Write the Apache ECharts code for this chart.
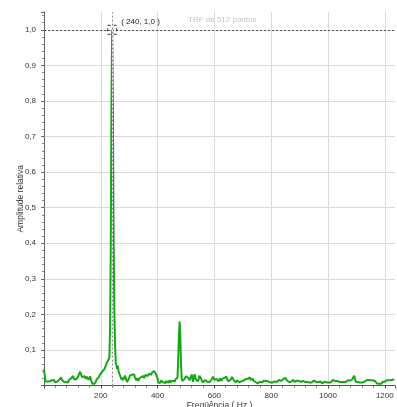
<!DOCTYPE html>
<html>
<head>
<meta charset="utf-8">
<script src="https://cdn.jsdelivr.net/npm/echarts@6/dist/echarts.min.js"></script>
<style>
  html, body { margin: 0; padding: 0; background: #ffffff; }
  #chart { width: 397px; height: 407px; }
</style>
</head>
<body>
<div id="chart"></div>
<script>
// Spectrum of a 512-point DFT, relative amplitude, one value every 2.5 Hz from 0 Hz.
const freqStep = 2.5;
const amplitude = [
  // 0 - 47.5 Hz
  0.046, 0.030, 0.012, 0.007, 0.009, 0.011, 0.008, 0.013, 0.012, 0.009, 0.012, 0.015, 0.010, 0.013, 0.016, 0.011, 0.009, 0.013, 0.010, 0.012,
  // 50 - 97.5 Hz
  0.015, 0.011, 0.017, 0.021, 0.023, 0.017, 0.022, 0.015, 0.011, 0.009, 0.014, 0.010, 0.015, 0.012, 0.009, 0.016, 0.012, 0.017, 0.020, 0.025,
  // 100 - 147.5 Hz
  0.021, 0.027, 0.019, 0.017, 0.022, 0.017, 0.015, 0.021, 0.025, 0.031, 0.034, 0.039, 0.032, 0.027, 0.023, 0.019, 0.023, 0.027, 0.022, 0.019,
  // 150 - 197.5 Hz
  0.025, 0.028, 0.021, 0.017, 0.022, 0.026, 0.018, 0.012, 0.005, 0.003, 0.009, 0.005, 0.003, 0.011, 0.017, 0.021, 0.017, 0.023, 0.028, 0.031,
  // 200 - 247.5 Hz
  0.036, 0.031, 0.039, 0.035, 0.043, 0.046, 0.051, 0.056, 0.062, 0.066, 0.070, 0.074, 0.078, 0.150, 0.380, 0.790, 1.000, 0.810, 0.430, 0.220,
  // 250 - 297.5 Hz
  0.120, 0.065, 0.060, 0.047, 0.056, 0.040, 0.036, 0.029, 0.025, 0.017, 0.023, 0.015, 0.014, 0.021, 0.028, 0.023, 0.016, 0.010, 0.007, 0.013,
  // 300 - 347.5 Hz
  0.021, 0.028, 0.032, 0.025, 0.031, 0.034, 0.027, 0.031, 0.024, 0.019, 0.015, 0.021, 0.016, 0.013, 0.020, 0.023, 0.017, 0.024, 0.028, 0.023,
  // 350 - 397.5 Hz
  0.027, 0.021, 0.026, 0.030, 0.026, 0.032, 0.027, 0.031, 0.034, 0.029, 0.035, 0.030, 0.036, 0.039, 0.035, 0.041, 0.037, 0.035, 0.040, 0.033,
  // 400 - 447.5 Hz
  0.020, 0.008, 0.011, 0.013, 0.008, 0.014, 0.017, 0.011, 0.009, 0.014, 0.011, 0.007, 0.013, 0.009, 0.014, 0.008, 0.012, 0.015, 0.009, 0.013,
  // 450 - 497.5 Hz
  0.008, 0.014, 0.010, 0.016, 0.011, 0.017, 0.013, 0.019, 0.022, 0.070, 0.137, 0.180, 0.137, 0.060, 0.020, 0.013, 0.017, 0.012, 0.019, 0.023,
  // 500 - 547.5 Hz
  0.026, 0.021, 0.027, 0.022, 0.020, 0.015, 0.020, 0.025, 0.031, 0.026, 0.011, 0.021, 0.032, 0.025, 0.017, 0.013, 0.017, 0.012, 0.019, 0.028,
  // 550 - 597.5 Hz
  0.031, 0.021, 0.015, 0.011, 0.009, 0.014, 0.010, 0.016, 0.012, 0.017, 0.011, 0.009, 0.014, 0.010, 0.015, 0.011, 0.017, 0.020, 0.025, 0.020,
  // 600 - 647.5 Hz
  0.016, 0.020, 0.015, 0.019, 0.014, 0.018, 0.012, 0.017, 0.020, 0.016, 0.013, 0.019, 0.021, 0.016, 0.022, 0.024, 0.019, 0.025, 0.018, 0.015,
  // 650 - 697.5 Hz
  0.012, 0.009, 0.013, 0.017, 0.020, 0.024, 0.020, 0.016, 0.013, 0.011, 0.009, 0.013, 0.015, 0.010, 0.014, 0.009, 0.013, 0.008, 0.012, 0.007,
  // 700 - 747.5 Hz
  0.010, 0.014, 0.010, 0.015, 0.018, 0.020, 0.015, 0.019, 0.022, 0.018, 0.023, 0.016, 0.013, 0.017, 0.020, 0.014, 0.011, 0.015, 0.010, 0.009,
  // 750 - 797.5 Hz
  0.008, 0.006, 0.010, 0.007, 0.011, 0.008, 0.013, 0.009, 0.014, 0.010, 0.014, 0.011, 0.009, 0.013, 0.010, 0.008, 0.012, 0.009, 0.013, 0.009,
  // 800 - 847.5 Hz
  0.008, 0.012, 0.009, 0.013, 0.008, 0.012, 0.009, 0.013, 0.010, 0.014, 0.011, 0.016, 0.012, 0.017, 0.013, 0.012, 0.016, 0.018, 0.015, 0.020,
  // 850 - 897.5 Hz
  0.022, 0.017, 0.015, 0.011, 0.014, 0.010, 0.013, 0.015, 0.011, 0.009, 0.014, 0.016, 0.012, 0.010, 0.013, 0.009, 0.014, 0.017, 0.018, 0.013,
  // 900 - 947.5 Hz
  0.017, 0.013, 0.011, 0.014, 0.010, 0.013, 0.009, 0.013, 0.010, 0.009, 0.013, 0.010, 0.008, 0.012, 0.009, 0.013, 0.010, 0.009, 0.013, 0.010,
  // 950 - 997.5 Hz
  0.014, 0.011, 0.015, 0.011, 0.014, 0.010, 0.009, 0.013, 0.008, 0.012, 0.007, 0.010, 0.006, 0.010, 0.007, 0.011, 0.008, 0.012, 0.009, 0.013,
  // 1000 - 1047.5 Hz
  0.010, 0.009, 0.013, 0.010, 0.009, 0.013, 0.012, 0.016, 0.013, 0.017, 0.013, 0.014, 0.010, 0.013, 0.009, 0.013, 0.010, 0.009, 0.013, 0.010,
  // 1050 - 1097.5 Hz
  0.009, 0.013, 0.010, 0.009, 0.013, 0.010, 0.014, 0.011, 0.015, 0.011, 0.010, 0.014, 0.011, 0.015, 0.017, 0.014, 0.022, 0.028, 0.020, 0.011,
  // 1100 - 1147.5 Hz
  0.009, 0.013, 0.010, 0.009, 0.012, 0.009, 0.013, 0.010, 0.009, 0.012, 0.013, 0.010, 0.014, 0.011, 0.015, 0.011, 0.014, 0.016, 0.013, 0.012,
  // 1150 - 1197.5 Hz
  0.015, 0.011, 0.014, 0.015, 0.011, 0.010, 0.013, 0.009, 0.008, 0.006, 0.007, 0.006, 0.005, 0.007, 0.006, 0.005, 0.009, 0.011, 0.008, 0.012,
  // 1200 - 1232.5 Hz
  0.011, 0.014, 0.011, 0.015, 0.012, 0.011, 0.015, 0.012, 0.011, 0.015, 0.016, 0.013, 0.017, 0.015
];

const titleText = 'TRF de 512 pontos';
const xName = 'Freqüência ( Hz )';
const yName = 'Amplitude relativa';
const xTicks = { min: 0, max: 1236, interval: 200 };
const yTicks = { min: 0, max: 1.05, interval: 0.1 };

const decimalComma = (v, d) => v.toFixed(d).replace('.', ',');

const points = amplitude.map((a, i) => [i * freqStep, a]);

// locate the strongest bin for the cursor readout
let peakIdx = 0;
amplitude.forEach((a, i) => { if (a > amplitude[peakIdx]) peakIdx = i; });
const peakFreq = peakIdx * freqStep;
const peakAmp = amplitude[peakIdx];

const FONT = 'Liberation Sans';
const chart = echarts.init(document.getElementById('chart'), null, { renderer: 'canvas' });

chart.setOption({
  animation: false,
  backgroundColor: '#ffffff',
  title: {
    text: titleText,
    left: 188,
    top: 16,
    padding: 0,
    textStyle: { fontFamily: FONT, fontSize: 8, fontWeight: 'normal', color: '#c4c4c4' }
  },
  grid: { left: 44, right: 2, top: 12, bottom: 21.4, containLabel: false, outerBoundsMode: 'none' },
  xAxis: {
    type: 'value',
    min: xTicks.min,
    max: xTicks.max,
    interval: xTicks.interval,
    name: xName,
    nameLocation: 'middle',
    nameGap: 16,
    nameMoveOverlap: false,
    nameTextStyle: { fontFamily: FONT, fontSize: 8.5, color: '#333' },
    axisLine: { show: true, lineStyle: { color: '#555', width: 1 } },
    axisTick: { show: true, length: 3, lineStyle: { color: '#555' } },
    minorTick: { show: true, splitNumber: 5, length: 2, lineStyle: { color: '#777' } },
    splitLine: { show: true, showMinLine: false, showMaxLine: false, lineStyle: { color: '#dadada', width: 1 } },
    axisLabel: {
      fontFamily: FONT, fontSize: 8, color: '#333', margin: 6,
      showMinLabel: false, showMaxLabel: false,
      formatter: v => String(v)
    }
  },
  yAxis: {
    type: 'value',
    min: yTicks.min,
    max: yTicks.max,
    interval: yTicks.interval,
    name: yName,
    nameLocation: 'middle',
    nameRotate: 90,
    nameGap: 19,
    nameMoveOverlap: false,
    nameTextStyle: { fontFamily: FONT, fontSize: 8.5, color: '#333' },
    axisLine: { show: true, lineStyle: { color: '#666', width: 1 } },
    axisTick: { show: true, length: 3, lineStyle: { color: '#666' } },
    minorTick: { show: true, splitNumber: 5, length: 2, lineStyle: { color: '#888' } },
    splitLine: { show: true, showMinLine: false, showMaxLine: false, lineStyle: { color: '#dadada', width: 1 } },
    axisLabel: {
      fontFamily: FONT, fontSize: 8, color: '#333', margin: 8,
      showMinLabel: false, showMaxLabel: false,
      formatter: v => decimalComma(v, 1)
    }
  },
  series: [{
    type: 'line',
    data: points,
    showSymbol: false,
    symbol: 'none',
    lineStyle: { color: '#14a814', width: 2 },
    z: 2,
    markLine: {
      silent: true,
      symbol: 'none',
      label: { show: false },
      data: [
        { yAxis: peakAmp, lineStyle: { color: '#555', width: 1, type: [2, 2] } },
        { xAxis: peakFreq, lineStyle: { color: '#ffffff', width: 1, type: 'solid' } },
        { xAxis: peakFreq, lineStyle: { color: '#8a8a8a', width: 1, type: [2, 2] } }
      ]
    },
    markPoint: {
      silent: true,
      data: [{ coord: [peakFreq, peakAmp] }],
      symbol: 'rect',
      symbolSize: 9,
      itemStyle: { color: 'rgba(0,0,0,0)', borderColor: '#333', borderWidth: 1, borderType: [3, 3] },
      label: {
        show: true,
        position: 'right',
        distance: 4,
        offset: [0, -8],
        fontFamily: FONT,
        fontSize: 8,
        color: '#222',
        formatter: () => '( ' + peakFreq + ', ' + decimalComma(peakAmp, 1) + ' )'
      }
    }
  }]
});
</script>
</body>
</html>
